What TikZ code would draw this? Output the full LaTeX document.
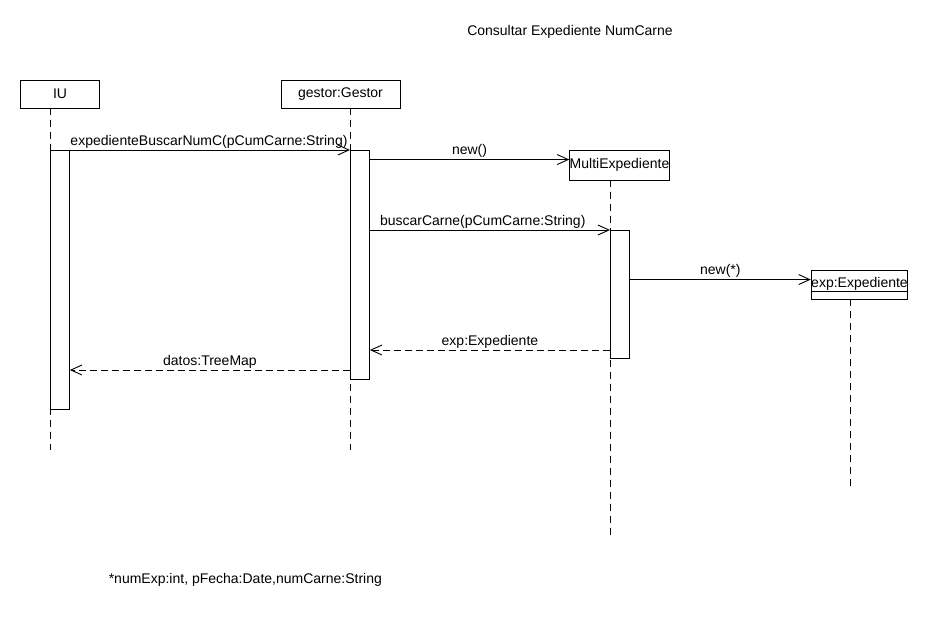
\documentclass[tikz,border=0pt]{standalone}
\usepackage{tikz}
\usepackage{xcolor}
\usepackage{fontspec}
\setmainfont{Liberation Sans}
\usetikzlibrary{arrows.meta}

\begin{document}
\begin{tikzpicture}[x=1pt,y=-1pt,line width=0.9pt,font=\fontsize{14}{16}\selectfont,
  objbox/.style={draw,minimum width=79pt,minimum height=28pt,inner sep=0pt},
  actbar/.style={draw,fill=white,minimum width=19pt,inner sep=0pt,anchor=north west},
  life/.style={dash pattern=on 7pt off 5pt},
  msg/.style={-{Straight Barb[length=11pt,width=10pt]}},
  ret/.style={msg,dash pattern=on 7pt off 4pt},
  lbl/.style={above,inner sep=1.5pt}]
\useasboundingbox[fill=white] (0,0) rectangle (930,620);
\node (title) at (570,32) {Consultar Expediente NumCarne};
\node [objbox] (iu) at (60,94) {IU};
\node [objbox,minimum width=119pt] (gestor) at (340.5,94) {gestor:Gestor};
\node [objbox,minimum height=30pt] (multi) at (619.5,165) {MultiExpediente};
\node [objbox,minimum height=29pt] (exp) at (859.5,284.5) {\underline{exp:Expediente}};
\foreach \obj/\dx/\bot in {iu/-10/450,gestor/9.5/450,multi/-9.5/540,exp/-9.5/490}
  {\draw [life] ([xshift=\dx pt]\obj.south) -- ([xshift=\dx pt]\obj.south |- 0,\bot);}
\node [actbar,minimum height=259pt] (iuAct) at (50,150) {};
\node [actbar,minimum height=229pt] (gAct) at (350,150) {};
\node [actbar,minimum height=128pt] (mAct) at (610,230) {};
\coordinate (multiIn) at ([yshift=-10pt]multi.north west);
\coordinate (expIn) at ([yshift=-10pt]exp.north west);
\coordinate (retExp) at (0,350);
\coordinate (retDatos) at (0,370);
\draw [msg] (iuAct.north west) -- node [lbl,pos=0.53] {expedienteBuscarNumC(pCumCarne:String)} (gAct.north west);
\draw [msg] (gAct.east |- multiIn) -- node [lbl] {new()} (multiIn);
\draw [msg] (gAct.east |- mAct.north) -- node [lbl,pos=0.47] {buscarCarne(pCumCarne:String)} (mAct.north west);
\draw [msg] (mAct.east |- expIn) -- node [lbl] {new(*)} (expIn);
\draw [ret] (mAct.west |- retExp) -- node [lbl] {exp:Expediente} (gAct.east |- retExp);
\draw [ret] (gAct.west |- retDatos) -- node [lbl] {datos:TreeMap} (iuAct.east |- retDatos);
\node [anchor=west] (note) at (105,580) {*numExp:int, pFecha:Date,numCarne:String};
\end{tikzpicture}
\end{document}
